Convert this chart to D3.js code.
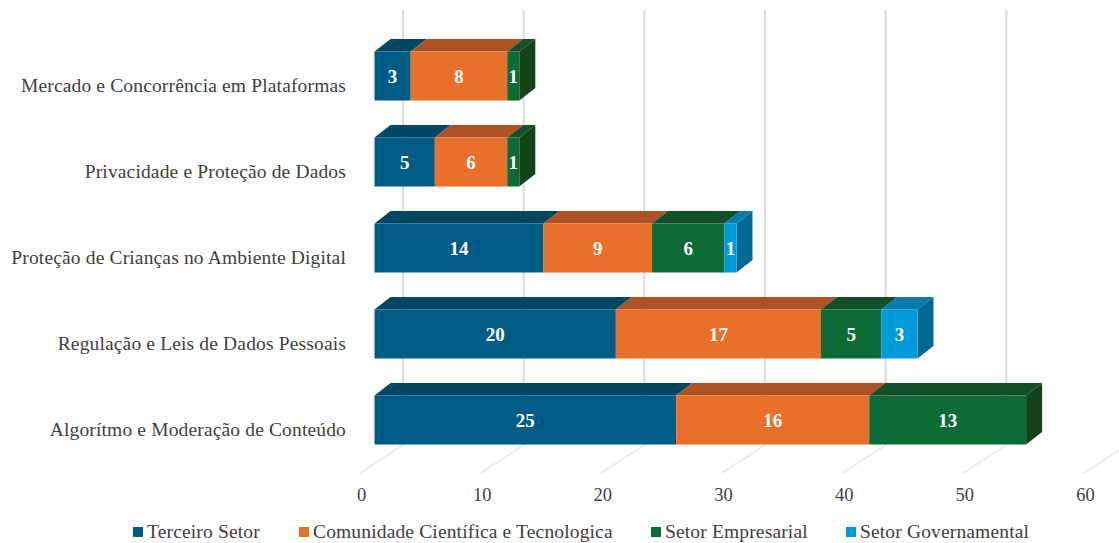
<!DOCTYPE html>
<html>
<head>
<meta charset="utf-8">
<script src="https://cdn.jsdelivr.net/npm/d3@7"></script>
<style>
  html, body { margin: 0; padding: 0; background: #fff; }
  svg { display: block; }
  text { font-family: "Liberation Serif", serif; }
</style>
</head>
<body>
<div id="chart"></div>
<script>
// values
const categories = [
  "Mercado e Concorrência em Plataformas",
  "Privacidade e Proteção de Dados",
  "Proteção de Crianças no Ambiente Digital",
  "Regulação e Leis de Dados Pessoais",
  "Algorítmo e Moderação de Conteúdo"
];
const seriesNames = ["Terceiro Setor", "Comunidade Científica e Tecnologica", "Setor Empresarial", "Setor Governamental"];
const terceiroSetor = [3, 5, 14, 20, 25];
const comunidade = [8, 6, 9, 17, 16];
const empresarial = [1, 1, 6, 5, 13];
const governamental = [0, 0, 1, 3, 0];
const xTicks = [0, 10, 20, 30, 40, 50, 60];

const frontColors = ["#005c84", "#e8702a", "#0e6b36", "#009ada"];
const topColors = ["#004766", "#ae5224", "#12502a", "#027bae"];
const sideColors = ["#004766", "#ae5224", "#134418", "#006a95"];

const width = 1119, height = 543;
const depthX = 16, depthY = 12.5;   // 3d offset of the bars
const floorDX = 43, floorDY = 28;   // slant of the floor lines

const svg = d3.select("#chart").append("svg")
  .attr("width", width)
  .attr("height", height);

// tick label positions; bars and walls are this scale shifted
const xScale = d3.scaleLinear().domain([0, 60]).range([361, 1085]);
const barShift = 14;
const yScale = d3.scaleBand().domain(categories).range([51.5, 444.5]).paddingInner(0.43);

// back wall lines
svg.append("g").selectAll("line")
  .data(xTicks.slice(0, -1))
  .enter().append("line")
    .attr("x1", d => xScale(d) + floorDX - 1)
    .attr("x2", d => xScale(d) + floorDX - 1)
    .attr("y1", 10)
    .attr("y2", 445)
    .attr("stroke", "#dcdcdc")
    .attr("stroke-width", 2.2);

// floor lines
svg.append("g").selectAll("line")
  .data(xTicks)
  .enter().append("line")
    .attr("x1", d => xScale(d) - 1)
    .attr("x2", d => xScale(d) - 1 + floorDX)
    .attr("y1", 473)
    .attr("y2", 473 - floorDY)
    .attr("stroke", "#dedede")
    .attr("stroke-width", 2)
    .attr("stroke-dasharray", "1.2 0.8");

// stacked bars
const stack = [terceiroSetor, comunidade, empresarial, governamental];
const unit = xScale(1) - xScale(0);

categories.forEach((cat, i) => {
  const g = svg.append("g");
  const y = yScale(cat);
  const h = yScale.bandwidth();
  let sum = 0;
  const last = d3.max(stack.map((s, k) => s[i] > 0 ? k : -1));

  stack.forEach((s, k) => {
    const v = s[i];
    if (!v) return;
    const x0 = xScale(0) + barShift + sum * unit - 0.5;
    const x1 = x0 + v * unit;
    sum += v;

    g.append("polygon")
      .attr("points", [[x0, y], [x0 + depthX, y - depthY], [x1 + depthX, y - depthY], [x1, y]].join(" "))
      .attr("fill", topColors[k]);
    if (k === last) {
      g.append("polygon")
        .attr("points", [[x1, y], [x1 + depthX, y - depthY], [x1 + depthX, y + h - depthY], [x1, y + h]].join(" "))
        .attr("fill", sideColors[k]);
    }
    g.append("rect")
      .attr("x", x0)
      .attr("y", y)
      .attr("width", x1 - x0)
      .attr("height", h)
      .attr("fill", frontColors[k]);
    g.append("text")
      .attr("x", (x0 + x1) / 2)
      .attr("y", y + h / 2 + 1)
      .attr("dy", "0.32em")
      .attr("text-anchor", "middle")
      .attr("fill", "#fff")
      .attr("font-weight", "bold")
      .attr("font-size", 19)
      .text(v);
  });
});

// category labels
svg.append("g").selectAll("text")
  .data(categories)
  .enter().append("text")
    .attr("x", 346)
    .attr("y", d => yScale(d) + yScale.bandwidth() / 2 + 10)
    .attr("dy", "0.32em")
    .attr("text-anchor", "end")
    .attr("fill", "#404040")
    .attr("font-size", 19.5)
    .style("letter-spacing", "0.15px")
    .text(d => d);

// value axis, labels only
const xAxis = svg.append("g")
  .attr("transform", "translate(0,482)")
  .call(d3.axisBottom(xScale).tickValues(xTicks).tickSize(0).tickPadding(6));
xAxis.select(".domain").remove();
xAxis.selectAll("text")
  .attr("fill", "#404040")
  .attr("font-size", 18.5)
  .style("font-family", '"Liberation Serif", serif');

// legend
const legendSwatch = [133, 299, 651, 846];
const legend = svg.append("g").selectAll("g")
  .data(seriesNames)
  .enter().append("g")
    .attr("transform", (d, i) => "translate(" + legendSwatch[i] + ",532)");
legend.append("rect")
  .attr("x", 0)
  .attr("y", -5)
  .attr("width", 10)
  .attr("height", 10)
  .attr("fill", (d, i) => frontColors[i]);
legend.append("text")
  .attr("x", 14)
  .attr("dy", "0.32em")
  .attr("fill", "#404040")
  .attr("font-size", 19.5)
  .style("letter-spacing", "0.15px")
  .text(d => d);
</script>
</body>
</html>
